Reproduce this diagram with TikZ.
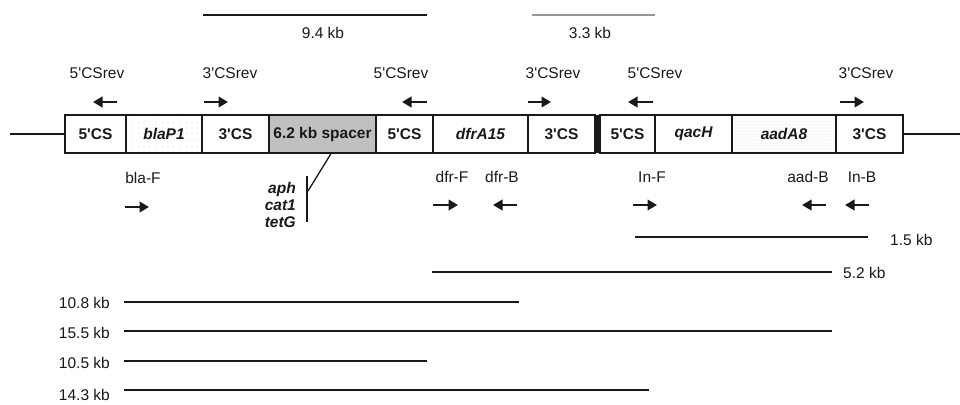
\documentclass[tikz,border=0pt]{standalone}
\usepackage{fontspec}
\setmainfont{Liberation Sans}[Ligatures=TeXOff]
\usetikzlibrary{arrows.meta,patterns.meta}

\definecolor{ink}{RGB}{25,25,25}
\definecolor{spacergray}{RGB}{192,192,192}
\definecolor{lightline}{RGB}{150,150,150}

\newcommand{\labelsize}{\fontsize{15.5}{17}\selectfont}

\tikzset{
  seg/.style={draw=ink, line width=1.2pt, minimum height=38pt, inner sep=0pt,
              font=\labelsize\bfseries, text=ink},
  gene/.style={seg, font=\labelsize\bfseries\itshape},
  sparsedots/.style={pattern={Dots[distance=6pt,radius=0.45pt]}, pattern color=gray!75},
  densedots/.style={pattern={Dots[distance=3pt,radius=0.4pt]}, pattern color=gray!70},
  primer/.style={draw=ink, line width=2.3pt, -{Triangle[length=9.5pt,width=10.5pt]}},
  lbl/.style={text=ink, inner sep=0pt},
  product/.style={draw=ink, line width=1.9pt},
  thinproduct/.style={draw=ink, line width=1.3pt},
  backbone/.style={draw=ink, line width=1.2pt},
}

\begin{document}
\begin{tikzpicture}[x=1pt, y=-1pt, font=\labelsize]
\useasboundingbox (0,0) rectangle (960,404);

% integron cassette array
\node (cs5a) [seg, minimum width=61pt] at (95.5,134) {5'CS};
\node (bla)  [gene, sparsedots, minimum width=76pt] at (164,134) {blaP1};
\node (cs3a) [seg, minimum width=67pt] at (235.5,134) {3'CS};
\node (spacer) [seg, fill=spacergray, minimum width=107pt] at (322.5,134) {6.2 kb spacer};
\node (cs5b) [seg, minimum width=57pt] at (404.5,134) {5'CS};
\node (dfr)  [gene, minimum width=95pt] at (480.5,134) {dfrA15};
\node (cs3b) [seg, minimum width=67pt] at (561.5,134) {3'CS};
\node (bar)  [fill=ink, minimum width=5pt, minimum height=38pt, inner sep=0pt] at (597.5,134) {};
\node (cs5c) [seg, minimum width=55pt] at (627.5,134) {5'CS};
\node (qac)  [gene, minimum width=77pt] at (693.5,134) {qacH};
\node (aad)  [gene, densedots, minimum width=104pt] at (784,134) {aadA8};
\node (cs3c) [seg, minimum width=67pt] at (869.5,134) {3'CS};

% flanking backbone
\coordinate (leftend) at (10,134);
\coordinate (rightend) at (960,134);
\draw[backbone] (leftend) -- (cs5a.west);
\draw[backbone] (cs3c.east) -- (rightend);

% primers above the array
\node (p1) [lbl] at (97,73) {5'CSrev};
\node (p2) [lbl] at (230,73) {3'CSrev};
\node (p3) [lbl] at (401,73) {5'CSrev};
\node (p4) [lbl] at (553,73) {3'CSrev};
\node (p5) [lbl] at (655,73) {5'CSrev};
\node (p6) [lbl] at (866,73) {3'CSrev};
\draw[primer] (117,102) -- (93,102);
\draw[primer] (204,102) -- (228,102);
\draw[primer] (427,102) -- (402,102);
\draw[primer] (528,102) -- (551,102);
\draw[primer] (653,102) -- (628,102);
\draw[primer] (840,102) -- (864,102);

% primers below the array
\node (blaF) [lbl] at (143,178) {bla-F};
\node (dfrF) [lbl] at (452,177) {dfr-F};
\node (dfrB) [lbl] at (502,177) {dfr-B};
\node (inF)  [lbl] at (652,177) {In-F};
\node (aadB) [lbl] at (808,177) {aad-B};
\node (inB)  [lbl] at (862,177) {In-B};
\draw[primer] (125,207) -- (149,207);
\draw[primer] (433,205) -- (458,205);
\draw[primer] (517,205) -- (493,205);
\draw[primer] (633,205) -- (657,205);
\draw[primer] (826,205) -- (802,205);
\draw[primer] (869,205) -- (845,205);

% resistance genes carried on the spacer
\coordinate (kink) at (308,191);
\coordinate (brtop) at (307,176);
\coordinate (brbot) at (307,222);
\draw[ink, line width=1.3pt] ([xshift=8.5pt]spacer.south) -- (kink);
\draw[ink, line width=1.3pt] (brtop) -- (brbot);
\node (res) [lbl, anchor=east, align=right, font=\labelsize\bfseries\itshape]
  at (296,205) {aph\\cat1\\tetG};

% long-range PCR products
\coordinate (a1) at (203,15);  \coordinate (a2) at (427,15);
\draw[product] (a1) -- (a2);
\node (l94) [lbl] at (323,33) {9.4 kb};
\coordinate (b1) at (532,15);  \coordinate (b2) at (655,15);
\draw[draw=lightline, line width=1.9pt] (b1) -- (b2);
\node (l33) [lbl] at (590,33) {3.3 kb};

\coordinate (c1) at (635,237); \coordinate (c2) at (868,237);
\draw[thinproduct] (c1) -- (c2);
\node (l15) [lbl, anchor=west] at (890,240) {1.5 kb};
\coordinate (d1) at (432,272); \coordinate (d2) at (832,272);
\draw[product] (d1) -- (d2);
\node (l52) [lbl, anchor=west] at (843,273) {5.2 kb};

\coordinate (e1) at (124,302); \coordinate (e2) at (519,302);
\draw[product] (e1) -- (e2);
\node (l108) [lbl, anchor=east] at (110,303) {10.8 kb};
\coordinate (f1) at (124,331); \coordinate (f2) at (832,331);
\draw[product] (f1) -- (f2);
\node (l155) [lbl, anchor=east] at (110,333) {15.5 kb};
\coordinate (g1) at (124,361); \coordinate (g2) at (427,361);
\draw[product] (g1) -- (g2);
\node (l105) [lbl, anchor=east] at (110,363) {10.5 kb};
\coordinate (h1) at (124,390); \coordinate (h2) at (649,390);
\draw[product] (h1) -- (h2);
\node (l143) [lbl, anchor=east] at (110,395) {14.3 kb};
\end{tikzpicture}
\end{document}
